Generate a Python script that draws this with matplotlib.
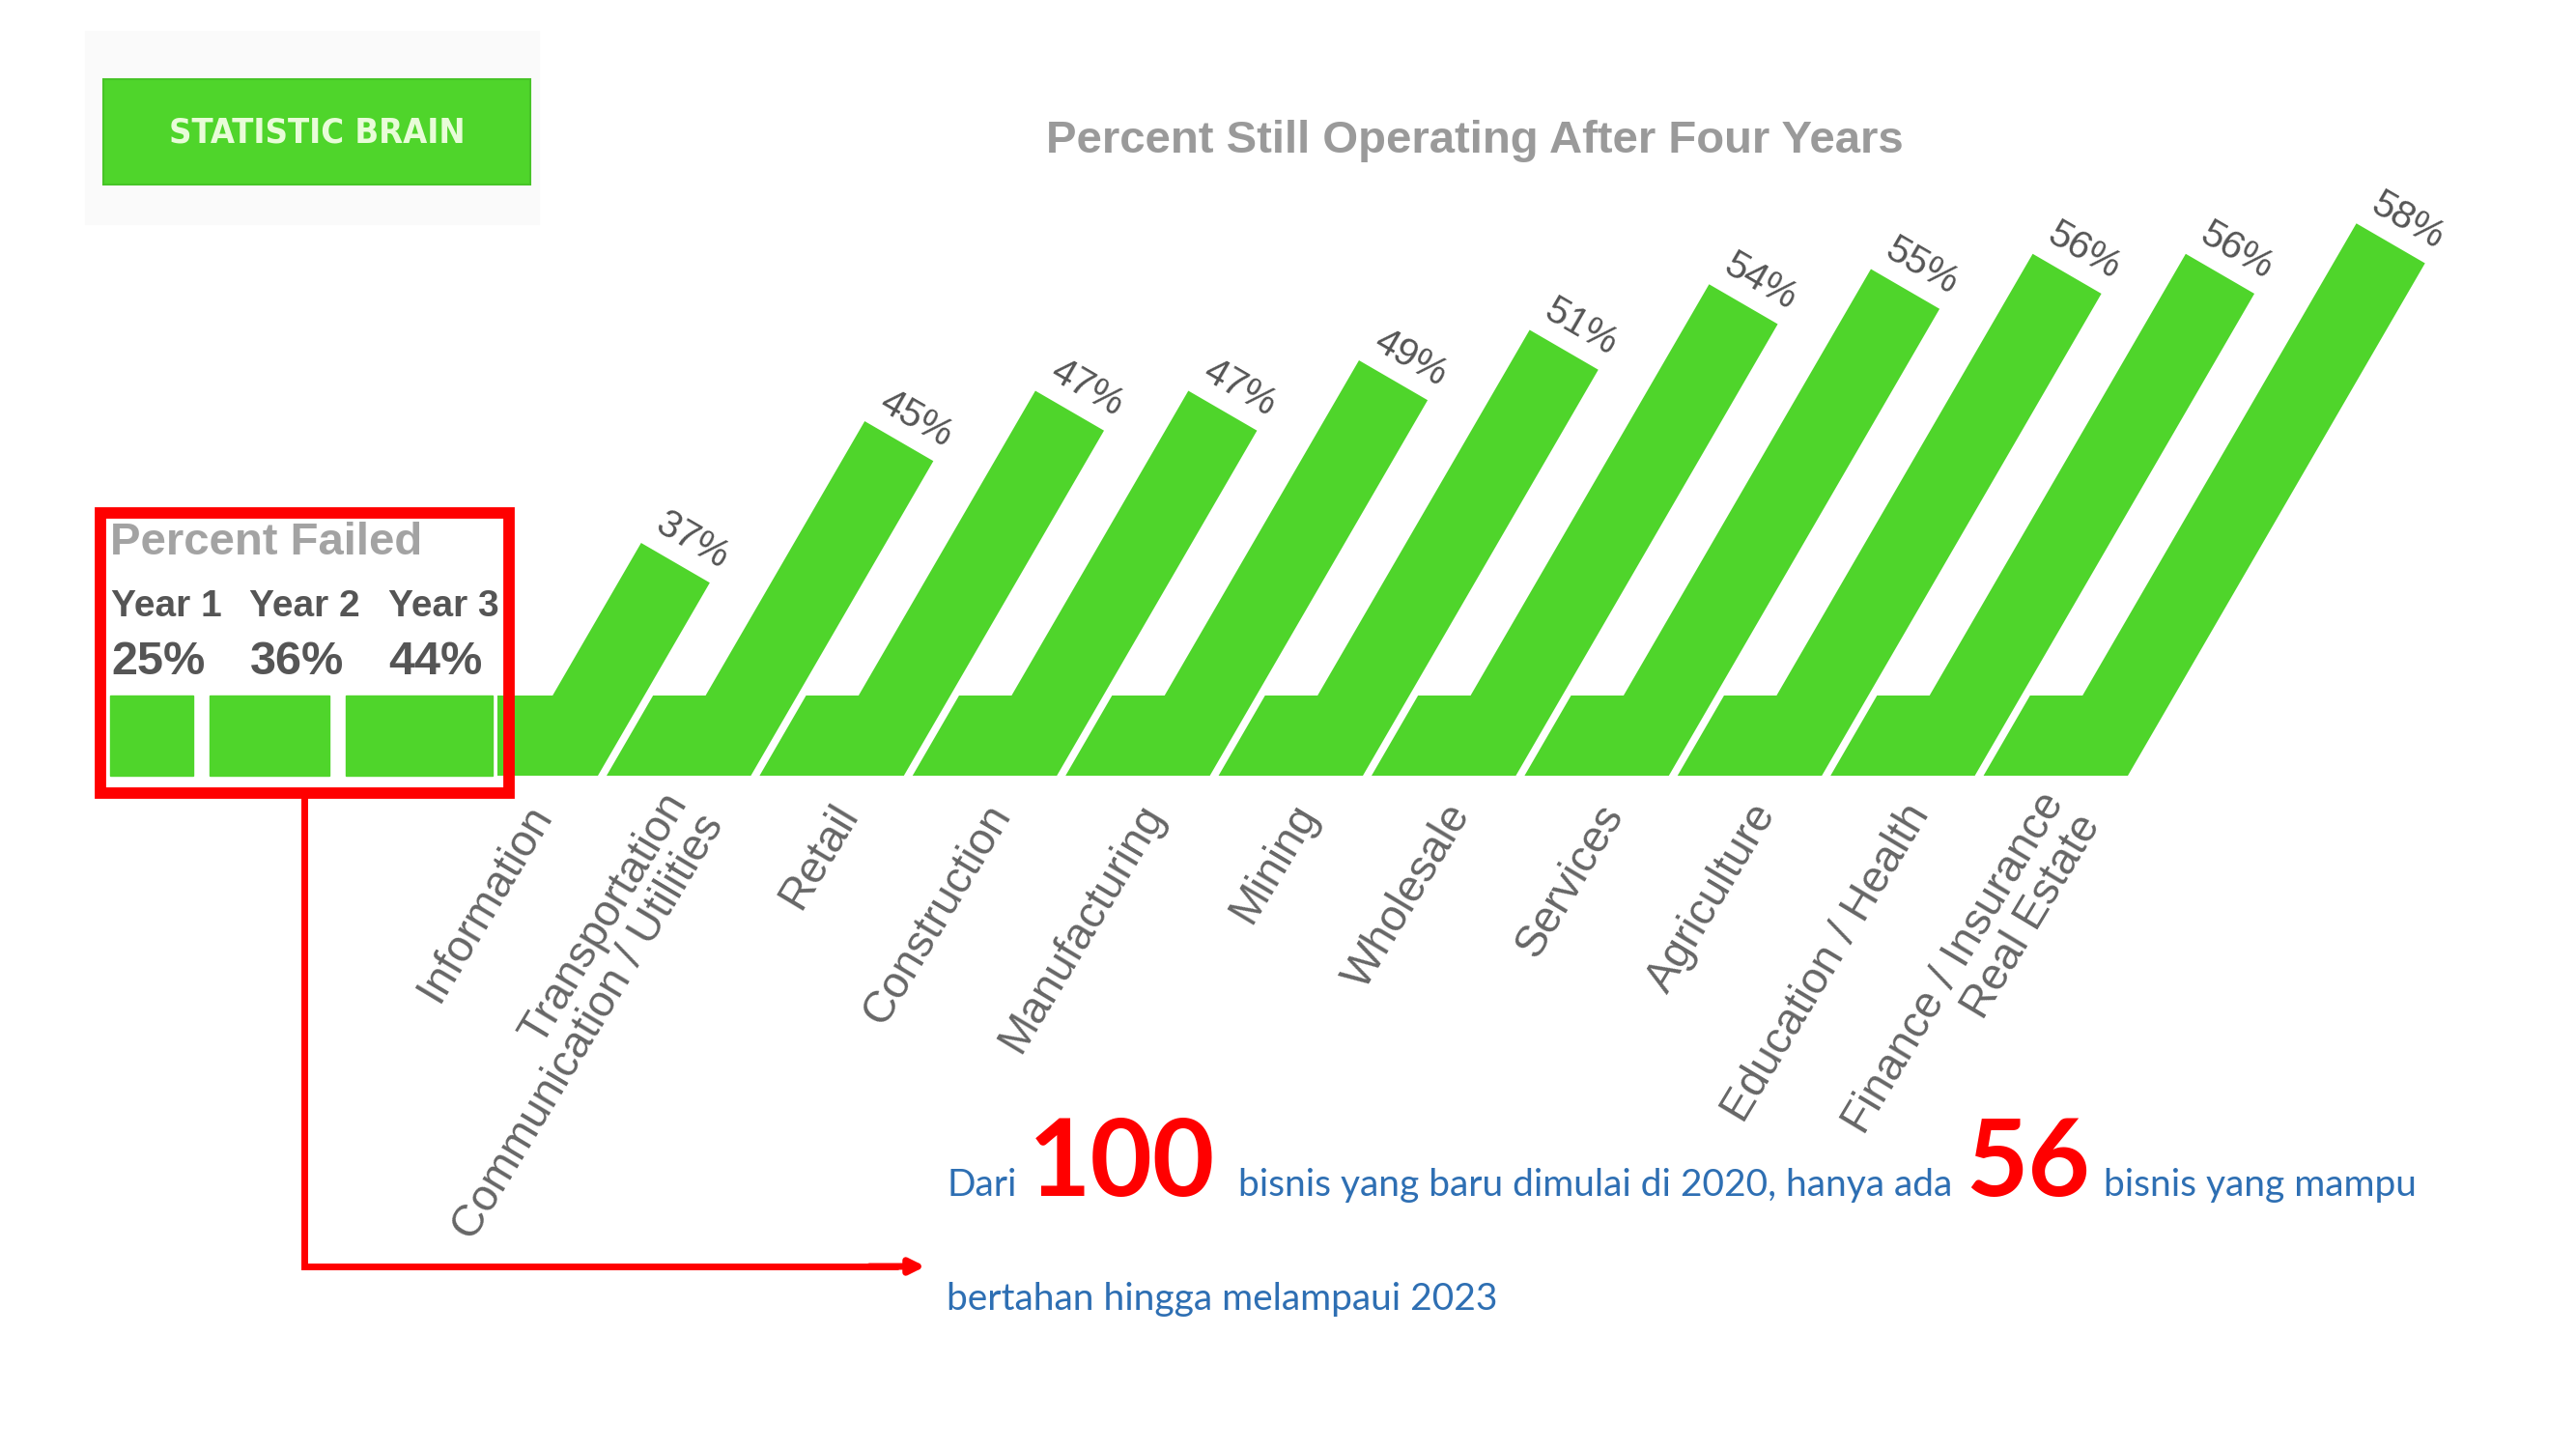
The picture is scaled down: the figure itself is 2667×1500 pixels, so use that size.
import numpy as np
import matplotlib.pyplot as plt
from matplotlib.patches import Polygon, Rectangle

categories = ["Information", "Transportation\nCommunication / Utilities", "Retail",
              "Construction", "Manufacturing", "Mining", "Wholesale", "Services",
              "Agriculture", "Education / Health", "Finance / Insurance\nReal Estate"]
operating = [37, 45, 47, 47, 49, 51, 54, 55, 56, 56, 58]
failed_years = ["Year 1", "Year 2", "Year 3"]
failed = [25, 36, 44]

GREEN = '#4fd52b'
RED = '#ff0000'
BLUE = '#2e6fb3'
SANS = ['Liberation Sans', 'DejaVu Sans']
BODY = ['Lato', 'DejaVu Sans']

W, H = 2667, 1500
fig = plt.figure(figsize=(W / 100, H / 100), dpi=100)
ax = fig.add_axes([0, 0, 1, 1])
ax.set_xlim(0, W)
ax.set_ylim(H, 0)
ax.axis('off')

# geometry of the slanted bars (pixel space, y down)
BASE_Y, STEP_Y = 803, 720
SLOPE = 0.58           # dx per dy of the leaning bars
BAR_W = 95
PITCH = 158.4
FIRST_RIGHT = 619
GAP = 9
PX_PER_PT, ZERO_PT = 15.75, 21.7


def bar_len(v):
    return PX_PER_PT * (v - ZERO_PT)


# faint screenshot background behind the logo
ax.add_patch(Rectangle((88, 32), 470, 200, color='#fafafa', zorder=0))

# logo
ax.add_patch(Rectangle((107, 82), 442, 109, facecolor=GREEN, edgecolor='#47c427', lw=1.5, zorder=2))
ax.text(328, 138, "STATISTIC BRAIN", color='#e8fcd8', fontsize=26, fontweight='bold',
        family='DejaVu Sans', fontstretch='condensed', ha='center', va='center', zorder=3)

ax.text(1527, 146, "Percent Still Operating After Four Years", color='#9a9a9a',
        fontsize=34, fontweight='bold', family=SANS, ha='center', va='center')

# percent failed panel
ax.add_patch(Rectangle((104, 531), 423, 290, facecolor='white', edgecolor='none', zorder=1))
ax.text(114, 562, "Percent Failed", color='#a3a3a3', fontsize=34, fontweight='bold',
        family=SANS, ha='left', va='center', zorder=3)
x = 114
for i, (lab, v) in enumerate(zip(failed_years, failed)):
    tx = 115 + 143.5 * i
    ax.text(tx, 628, lab, color='#555555', fontsize=28, fontweight='bold',
            family=SANS, ha='left', va='center', zorder=3)
    ax.text(tx, 686, f"{v}%", color='#555555', fontsize=35, fontweight='bold',
            family=SANS, ha='left', va='center', zorder=3)
    w = 3.45 * v
    ax.add_patch(Rectangle((x, STEP_Y), w, BASE_Y - STEP_Y, color=GREEN, zorder=2))
    x += w + 17

# leaning bars
step_dx = SLOPE * (BASE_Y - STEP_Y)
s = BAR_W / (1 + SLOPE ** 2)
u = np.array([SLOPE, -1.0]) / np.hypot(SLOPE, 1.0)
prev_right = None
for i, (cat, v) in enumerate(zip(categories, operating)):
    xr0 = FIRST_RIGHT + PITCH * i
    xl0 = xr0 - BAR_W
    h = bar_len(v)
    tl = np.array([xl0 + SLOPE * h, BASE_Y - h])
    tr = tl + np.array([s, SLOPE * s])
    if prev_right is None:
        b0, b1 = (515, BASE_Y), (515, STEP_Y)
    else:
        b0 = (prev_right + GAP, BASE_Y)
        b1 = (prev_right + GAP + step_dx, STEP_Y)
    pts = [b0, b1, (xl0 + step_dx, STEP_Y), tuple(tl), tuple(tr), (xr0, BASE_Y)]
    ax.add_patch(Polygon(pts, closed=True, facecolor=GREEN, edgecolor='none', zorder=2))
    prev_right = xr0

    mid = (tl + tr) / 2 + u * 27
    ax.text(mid[0] + 4, mid[1], f"{v}%", color='#555555', fontsize=29,
            family=SANS, ha='center', va='center', rotation=-np.degrees(np.arctan(SLOPE)),
            rotation_mode='anchor', zorder=3)

    ax.text(xr0 - 57, 836, cat, color='#666666', fontsize=33, family=SANS,
            ha='right', va='center', multialignment='right', rotation=59,
            rotation_mode='anchor', linespacing=1.0, zorder=3)

# red highlight box and arrow
ax.add_patch(Rectangle((104, 531), 423, 290, facecolor='none', edgecolor=RED, lw=8.5, zorder=4))
ax.plot([315, 315, 930], [821, 1311, 1311], color=RED, lw=5, solid_joinstyle='miter',
        solid_capstyle='butt', zorder=4)
ax.annotate('', xy=(958, 1311), xytext=(900, 1311),
            arrowprops=dict(arrowstyle='-|>,head_length=0.9,head_width=0.45', color=RED,
                            lw=5, shrinkA=0, shrinkB=0), zorder=4)

# caption, placed piece by piece
renderer = fig.canvas.get_renderer()
inv = ax.transData.inverted()


def put(x, y, txt, gap, **kw):
    t = ax.text(x, y, txt, ha='left', va='baseline', zorder=5, **kw)
    bb = t.get_window_extent(renderer)
    return inv.transform((bb.x1, bb.y0))[0] + gap


small = dict(color=BLUE, fontsize=28, family=BODY)
big = dict(color=RED, fontsize=80, fontweight='bold', family=BODY)
x = put(980, 1238, "Dari", 12, **small)
x = put(x, 1238, "100", 24, **big)
x = put(x, 1238, "bisnis yang baru dimulai di 2020, hanya ada", 14, **small)
x = put(x, 1238, "56", 14, **big)
put(x, 1238, "bisnis yang mampu", 0, **small)
put(980, 1356, "bertahan hingga melampaui 2023", 0, **small)

fig.savefig('out.png', dpi=100, facecolor='white')
